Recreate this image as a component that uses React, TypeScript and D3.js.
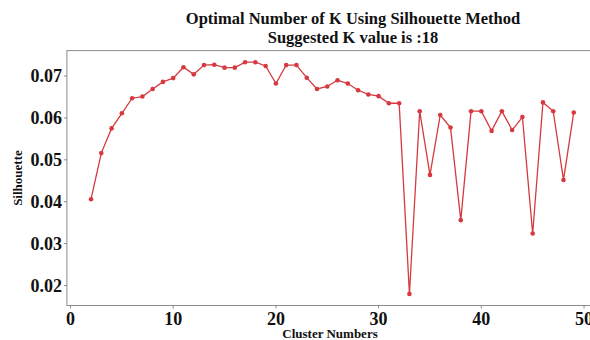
import React from "react";
import * as d3 from "d3";

const clusterK: number[] = [2,3,4,5,6,7,8,9,10,11,12,13,14,15,16,17,18,19,20,21,22,23,24,25,26,27,28,29,30,31,32,33,34,35,36,37,38,39,40,41,42,43,44,45,46,47,48,49];
const silhouette: number[] = [
  0.0406, 0.0516, 0.0575, 0.0611, 0.0647, 0.0651, 0.0669, 0.0686, 0.0695, 0.0721,
  0.0704, 0.0726, 0.0727, 0.0720, 0.0720, 0.0733, 0.0733, 0.0724, 0.0682, 0.0726,
  0.0726, 0.0696, 0.0669, 0.0675, 0.0690, 0.0682, 0.0666, 0.0656, 0.0652, 0.0635,
  0.0635, 0.0180, 0.0616, 0.0464, 0.0607, 0.0577, 0.0356, 0.0616, 0.0616, 0.0569,
  0.0616, 0.0571, 0.0602, 0.0324, 0.0637, 0.0616, 0.0452, 0.0613
];
const xTicks: number[] = [0, 10, 20, 30, 40, 50];
const yTicks: number[] = [0.02, 0.03, 0.04, 0.05, 0.06, 0.07];
const titleLines: string[] = ["Optimal Number of K Using Silhouette Method", "Suggested K value is :18"];

const W = 590, H = 340;
const left = 66.9, right = 597.9, top = 50.6, bottom = 305.5;
const serif = "'Liberation Serif', 'Times New Roman', serif";
const red = "#d63a40";
const frame = "#8c8c8c";

export default function App() {
  const [xMin, xMax] = d3.extent(clusterK) as [number, number];
  const [yMin, yMax] = d3.extent(silhouette) as [number, number];
  const xPad = (xMax - xMin) * 0.05;
  const yPad = (yMax - yMin) * 0.05;
  const x = d3.scaleLinear().domain([xMin - xPad, xMax + xPad]).range([left, right]);
  const y = d3.scaleLinear().domain([yMin - yPad, yMax + yPad]).range([bottom, top]);
  const pts = clusterK.map((k, i) => [k, silhouette[i]] as [number, number]);
  const line = d3.line<[number, number]>().x(d => x(d[0])).y(d => y(d[1]));

  return (
    <svg width={W} height={H} style={{ position: "absolute", left: 0, top: 0, background: "#fff" }}>
      <rect x={0} y={0} width={W} height={H} fill="#fff" />
      {titleLines.map((t, i) => (
        <text key={i} x={353} y={24 + i * 19} textAnchor="middle" fontFamily={serif} fontWeight="bold" fontSize={16.5} fill="#111">{t}</text>
      ))}
      <rect x={left} y={top} width={right - left} height={bottom - top} fill="none" stroke={frame} strokeWidth={1} />
      {xTicks.map(t => (
        <g key={t}>
          <line x1={x(t)} x2={x(t)} y1={bottom} y2={bottom + 3} stroke={frame} />
          <text x={x(t)} y={bottom + 19} textAnchor="middle" fontFamily={serif} fontWeight="bold" fontSize={18} fill="#111">{t}</text>
        </g>
      ))}
      {yTicks.map(t => (
        <g key={t}>
          <line x1={left - 3} x2={left} y1={y(t)} y2={y(t)} stroke={frame} />
          <text x={left - 5} y={y(t)} dy="0.35em" textAnchor="end" fontFamily={serif} fontWeight="bold" fontSize={18} fill="#111">{d3.format(".2f")(t)}</text>
        </g>
      ))}
      <text x={330} y={338} textAnchor="middle" fontFamily={serif} fontWeight="bold" fontSize={13} fill="#111">Cluster Numbers</text>
      <text transform={`translate(22,${(top + bottom) / 2}) rotate(-90)`} textAnchor="middle" fontFamily={serif} fontWeight="bold" fontSize={13} fill="#111">Silhouette</text>
      <path d={line(pts) || ""} fill="none" stroke={red} strokeWidth={1.3} />
      {pts.map((p, i) => (
        <circle key={i} cx={x(p[0])} cy={y(p[1])} r={2.3} fill={red} />
      ))}
    </svg>
  );
}
